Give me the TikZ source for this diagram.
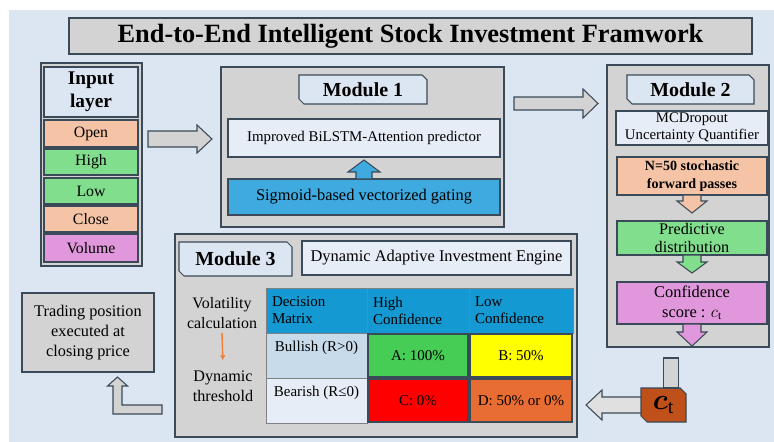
\documentclass[tikz,border=0pt]{standalone}
\usepackage{fontspec}
\setmainfont{Liberation Serif}
\usepackage{amsmath,bm}
\usetikzlibrary{arrows.meta,calc}

\definecolor{bgblue}{HTML}{DCE5F2}
\definecolor{boxgray}{HTML}{D3D3D3}
\definecolor{edge}{HTML}{3A4A58}
\definecolor{lightbox}{HTML}{E7EDF7}
\definecolor{peach}{HTML}{F5C4A6}
\definecolor{mint}{HTML}{80DE8C}
\definecolor{orchid}{HTML}{E097DB}
\definecolor{gateblue}{HTML}{3EAAE0}
\definecolor{hdrblue}{HTML}{1499D2}
\definecolor{bullblue}{HTML}{C8DBEB}
\definecolor{bearblue}{HTML}{E6EDF6}
\definecolor{cellA}{HTML}{46CD55}
\definecolor{cellB}{HTML}{FFFF00}
\definecolor{cellC}{HTML}{FF0000}
\definecolor{cellD}{HTML}{E86D32}
\definecolor{ctbrown}{HTML}{C0501A}
\definecolor{volorange}{HTML}{EC7F3C}

\newcommand{\fsz}[2]{\fontsize{#1}{#2}\selectfont}
% box with top-right and bottom-left corners cut: fill, cx, cy, w, h, cut
\newcommand{\cutbox}[6]{%
  \filldraw[draw=edge, line width=0.9pt, fill=#1]
    ({#2-#4/2},{#3-#5/2}) -- ({#2+#4/2-#6},{#3-#5/2}) -- ({#2+#4/2},{#3-#5/2+#6})
    -- ({#2+#4/2},{#3+#5/2}) -- ({#2-#4/2+#6},{#3+#5/2}) -- ({#2-#4/2},{#3+#5/2-#6}) -- cycle;}

\tikzset{
  wh/.style 2 args={minimum width=#1*0.3mm, minimum height=#2*0.3mm},
  box/.style={draw=edge, line width=0.9pt, inner sep=0pt, outer sep=0pt, align=center},
  tab/.style={inner sep=0pt, outer sep=0pt, font=\fsz{17}{20}\bfseries},
  hdr/.style={box, draw=gray, line width=0.6pt, fill=hdrblue, align=left, font=\fsz{12.8}{14.5}},
  res/.style={box, line width=1.1pt, font=\fsz{12.8}{15}},
  blk/.style={draw=edge, line width=0.9pt, fill=boxgray, line join=miter},
}

\begin{document}
\begin{tikzpicture}[x=0.3mm, y=-0.3mm]
\useasboundingbox (0,0) rectangle (774,442);
\fill[bgblue] (9,10) rectangle (774,442);

% title
\node[box, fill=boxgray, wh={683}{36}, font=\fsz{22.5}{26}\bfseries] (title) at (410.5,36)
  {End-to-End Intelligent Stock Investment Framwork};

% input layer
\node[box, fill=boxgray, wh={101}{203}] (inbox) at (91.5,164.5) {};
\node[box, fill=bgblue, wh={94}{50}, font=\fsz{16.5}{19.8}\bfseries] (inhead) at (91,92) {Input\\layer};
\node[box, fill=peach, wh={94}{27}, font=\fsz{13.5}{16}] (open) at (91,133.5) {Open};
\node[box, fill=mint, wh={94}{26}, font=\fsz{13.5}{16}] (high) at (91,162) {High};
\node[box, fill=mint, wh={94}{26}, font=\fsz{13.5}{16}] (low) at (91,191) {Low};
\node[box, fill=peach, wh={94}{26}, font=\fsz{13.5}{16}] (close) at (91,219) {Close};
\node[box, fill=orchid, wh={94}{28}, font=\fsz{13.5}{16}] (volume) at (91,248) {Volume};

% module 1
\node[box, fill=boxgray, wh={283}{160}] (mod1) at (362.5,147) {};
\cutbox{bgblue}{363}{89.5}{128}{29}{5}
\node[tab, wh={128}{29}] (m1tab) at (363,89.5) {Module 1};
\node[box, fill=lightbox, wh={272}{38}, font=\fsz{12.7}{15}] (bilstm) at (364,138) {Improved BiLSTM-Attention predictor};
\node[box, fill=gateblue, wh={272}{36}, font=\fsz{14}{16}] (gate) at (364,197) {Sigmoid-based vectorized gating};
\draw[blk, fill=gateblue] (gate.north) ++(-8,0) -- ++(0,-7) -- ++(-8,0) -- ++(16,-12) -- ++(16,12)
  -- ++(-8,0) -- ++(0,7) -- cycle;

% input -> module 1 -> module 2
\draw[blk] (inbox.east) ++(6,-33.5) -- ++(49,0) -- ++(0,-6) -- ++(15,14) -- ++(-15,14) -- ++(0,-6) -- ++(-49,0) -- cycle;
\draw[blk] (mod1.east) ++(10,-50) -- ++(69,0) -- ++(0,-8) -- ++(15,14.5) -- ++(-15,14.5) -- ++(0,-8) -- ++(-69,0) -- cycle;

% module 2
\node[box, fill=boxgray, wh={162}{282}] (mod2) at (688,206) {};
\cutbox{bgblue}{690.5}{89.5}{127}{29}{5}
\node[tab, wh={127}{29}] (m2tab) at (690.5,89.5) {Module 2};
\node[box, fill=lightbox, wh={152}{34}, font=\fsz{12.6}{14.5}] (mcd) at (692,128) {MCDropout\\Uncertainty Quantifier};
\node[box, fill=peach, wh={150}{38}, font=\fsz{12}{16}\bfseries] (n50) at (692,176) {N=50 stochastic\\forward passes};
\node[box, fill=mint, wh={150}{34}, font=\fsz{13.8}{15.5}] (pred) at (692,238) {Predictive\\distribution};
\node[box, fill=orchid, wh={150}{42}, font=\fsz{14}{17}] (conf) at (692,303) {Confidence\\score : $c_{\mathrm{t}}$};
\draw[blk, fill=peach] (n50.south) ++(-9,0) -- ++(0,6) -- ++(-6,0) -- ++(15,12) -- ++(15,-12) -- ++(-6,0) -- ++(0,-6) -- cycle;
\draw[blk, fill=mint] (pred.south) ++(-9,0) -- ++(0,7) -- ++(-6,0) -- ++(15,11) -- ++(15,-11) -- ++(-6,0) -- ++(0,-7) -- cycle;
\draw[blk, fill=orchid] (conf.south) ++(-9,0) -- ++(0,8) -- ++(-6,0) -- ++(15,14) -- ++(15,-14) -- ++(-6,0) -- ++(0,-8) -- cycle;

% confidence score handed to module 3
\cutbox{ctbrown}{663.5}{405}{45}{34}{6}
\node[tab, wh={45}{34}] (ct) at (663.5,405) {\fsz{24}{24}$\bm{c}_{\mathrm{t}}$};
\draw[blk] (ct.north) rectangle ++(15,-30);
\draw[blk, fill=boxgray!70!white] (ct.west) ++(0,-8) -- ++(-39,0) -- ++(0,-7) -- ++(-16,15) -- ++(16,15) -- ++(0,-7) -- ++(39,0) -- cycle;

% module 3
\node[box, fill=boxgray, wh={402}{203}] (mod3) at (376,335.5) {};
\cutbox{bgblue}{235.5}{259}{113}{34}{5}
\node[tab, wh={113}{34}] (m3tab) at (235.5,259) {Module 3};
\node[box, fill=lightbox, wh={269}{34}, font=\fsz{14}{16}] (dyn) at (436.5,258) {Dynamic Adaptive Investment Engine};

\node[font=\fsz{13.6}{17}, align=center] (vol) at (222,313) {Volatility\\calculation};
\node[font=\fsz{13.8}{17}, align=center] (thr) at (223,386.5) {Dynamic\\threshold};
\draw[volorange, line width=1.2pt, -{Triangle[length=4pt,width=4pt]}, shorten >=2.1mm] (vol.south) -- (thr.north);

% decision matrix
\node[hdr, wh={101}{45}, text width=26.7mm] (hdm) at (316.5,310.5) {Decision\\Matrix};
\node[hdr, wh={102}{45}, text width=27mm] (hdh) at (418,310.5) {High\\Confidence};
\node[hdr, wh={104}{45}, text width=27.6mm] (hdl) at (521,310.5) {Low\\Confidence};
\node[box, draw=gray, line width=0.6pt, fill=bullblue, wh={101}{45},
  label={[font=\fsz{12.8}{15}, anchor=north, inner sep=0pt, yshift=-2.3mm]north:Bullish (R>0)}] (bull) at (316.5,355.5) {};
\node[box, draw=gray, line width=0.6pt, fill=bearblue, wh={101}{45},
  label={[font=\fsz{12.8}{15}, anchor=north, inner sep=0pt, yshift=-2.3mm]north:Bearish (R≤0)}] (bear) at (316.5,400.5) {};
\node[res, fill=cellA, wh={100}{43}] (ca) at (418,355.5) {A: 100\%};
\node[res, fill=cellB, wh={102}{43}] (cb) at (521,355.5) {B: 50\%};
\node[res, fill=cellC, wh={100}{43}] (cc) at (418,400.5) {C: 0\%};
\node[res, fill=cellD, wh={102}{43}] (cd) at (521,400.5) {D: 50\% or 0\%};

% output
\node[box, fill=boxgray, wh={132}{79}, font=\fsz{13.9}{17}] (trade) at (88,332.5) {Trading position\\executed at\\closing price};
\draw[blk] (mod3.west) ++(-13,69.5) -- ++(-40,0) -- ++(0,-19) -- ++(5.5,0) -- ++(-10,-9) -- ++(-10,9) -- ++(5.5,0)
  -- ++(0,28) -- ++(49,0) -- cycle;
\end{tikzpicture}
\end{document}
